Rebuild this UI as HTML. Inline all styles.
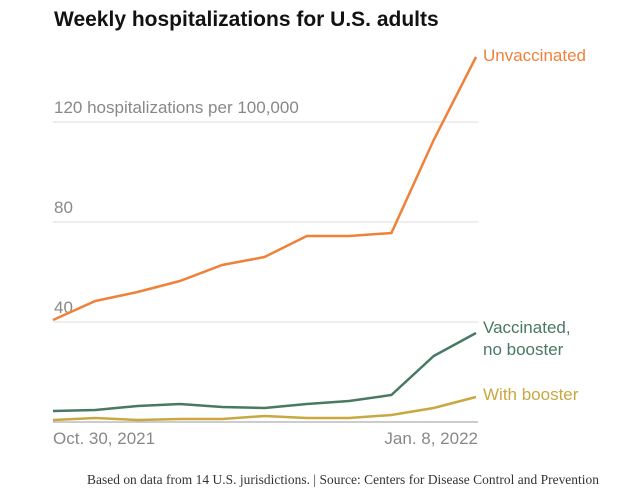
<!DOCTYPE html>
<html><head><meta charset="utf-8"><style>
body{margin:0;background:#fff;width:639px;height:498px;overflow:hidden;font-family:"Liberation Sans",sans-serif}
</style></head><body>
<svg id="chart" width="639" height="498">
<text x="54" y="26" font-size="21" font-weight="bold" fill="#121212">Weekly hospitalizations for U.S. adults</text>
<g id="grid"></g><g id="lines"></g>
<text x="599" y="484" font-size="13.4" fill="#333" text-anchor="end" textLength="512" font-family="Liberation Serif, serif">Based on data from 14 U.S. jurisdictions. | Source: Centers for Disease Control and Prevention</text>
</svg>
<script>
const categories=["Oct. 30, 2021","Nov. 6","Nov. 13","Nov. 20","Nov. 27","Dec. 4","Dec. 11","Dec. 18","Dec. 25","Jan. 1","Jan. 8, 2022"];
const unvaccinated=[40.8,48.4,52,56.4,62.8,66,74.4,74.4,75.6,112.8,146];
const noBooster=[4.4,4.8,6.4,7.2,6,5.6,7.2,8.4,10.8,26.4,35.6];
const withBooster=[0.8,1.6,0.8,1.2,1.2,2.4,1.6,1.6,2.8,5.6,10];
const yTicks=[0,40,80,120];
const yTickLabels=["","40","80","120 hospitalizations per 100,000"];
const ns="http://www.w3.org/2000/svg";
const x=i=>53+i*(476-53)/(categories.length-1);
const y=v=>422-v*2.5;
const grid=document.getElementById('grid'),lines=document.getElementById('lines');
function mk(tag,attrs,parent,text){const e=document.createElementNS(ns,tag);for(const k in attrs)e.setAttribute(k,attrs[k]);if(text!==undefined)e.textContent=text;parent.appendChild(e);return e;}
yTicks.forEach((t,i)=>{
 const l=mk('line',{x1:53,x2:478,y1:y(t),y2:y(t),stroke:i===0?'#999':'#ddd','stroke-width':1},grid);
 
 
 if(yTickLabels[i]){const tx=mk('text',{x:54,y:y(t)-9,'font-size':17,fill:'#888'},grid,yTickLabels[i]);
 
 }
});
[[0,'start'],[categories.length-1,'end']].forEach(([i,a])=>{
 const tx=mk('text',{x:x(i)+(i?2:0),y:444,'font-size':17,fill:'#888','text-anchor':a},grid,categories[i]);
 
 
});
const series=[[unvaccinated,'#f0813a','unvaccinated',['Unvaccinated'],4],[noBooster,'#487a62','vaccinated-no-booster',['Vaccinated,','no booster'],0],[withBooster,'#c9a840','with-booster',['With booster'],3]];
series.forEach(([d,c,n,lab,dy])=>{
 const p=mk('path',{d:d.map((v,i)=>(i?'L':'M')+x(i)+','+y(v)).join(''),fill:'none',stroke:c,'stroke-width':2.5},lines);
 
 
 lab.forEach((s,k)=>{const t=mk('text',{x:483,y:y(d[d.length-1])+dy+k*22,'font-size':17,fill:c},lines,s);
 
 });
});
</script>
</body></html>
